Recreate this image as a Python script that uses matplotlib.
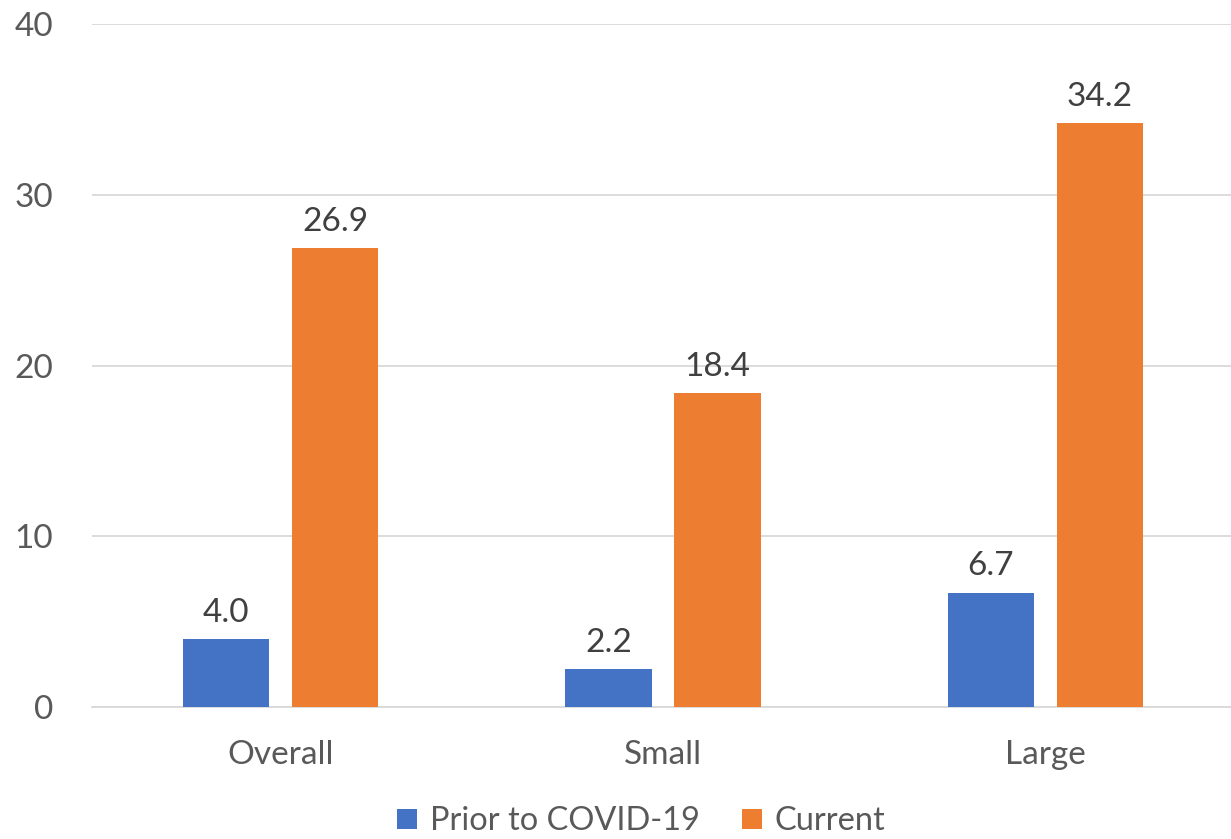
import matplotlib.pyplot as plt
import numpy as np

categories = ["Overall", "Small", "Large"]
prior = [4.0, 2.2, 6.7]
current = [26.9, 18.4, 34.2]
series_names = ["Prior to COVID-19", "Current"]
yticks = [0, 10, 20, 30, 40]

plt.rcParams['font.family'] = ['Lato', 'DejaVu Sans']
lbl = '#404040'
tk = '#595959'
fs = 24

fig = plt.figure(figsize=(12.31, 8.39), dpi=100)
ax = fig.add_axes([92 / 1231, 132 / 839, 1139 / 1231, 683 / 839])
x = np.arange(len(categories))
w = 0.225
off = 0.1425
b1 = ax.bar(x - off, prior, w, color='#4472C4', label=series_names[0], zorder=3)
b2 = ax.bar(x + off, current, w, color='#ED7D31', label=series_names[1], zorder=3)
for bars, vals in ((b1, prior), (b2, current)):
    for r, v in zip(bars, vals):
        ax.annotate(f"{v:.1f}", (r.get_x() + r.get_width() / 2, v), xytext=(0, 8),
                    textcoords='offset points', ha='center', va='bottom',
                    fontsize=fs, color=lbl)
ax.set_xlim(-0.4928, 2.485)
ax.set_ylim(0, 40)
ax.set_yticks(yticks)
ax.set_xticks(x)
ax.set_xticklabels(categories)
ax.tick_params(axis='both', length=0, labelsize=fs, labelcolor=tk)
ax.tick_params(axis='y', pad=28)
ax.tick_params(axis='x', pad=24)
ax.grid(axis='y', color='#D9D9D9', linewidth=1.3, zorder=0)
for s in ['top', 'right', 'left']:
    ax.spines[s].set_visible(False)
ax.spines['bottom'].set_color('#D9D9D9')
ax.spines['bottom'].set_linewidth(1.3)
fig.legend(loc='center', bbox_to_anchor=(0.521, 0.021), ncol=2, frameon=False,
           fontsize=23.4, labelcolor=tk, handlelength=0.6, handleheight=0.6,
           columnspacing=1.3, handletextpad=0.4, borderpad=0.1)
fig.savefig('out.png', dpi=100)
